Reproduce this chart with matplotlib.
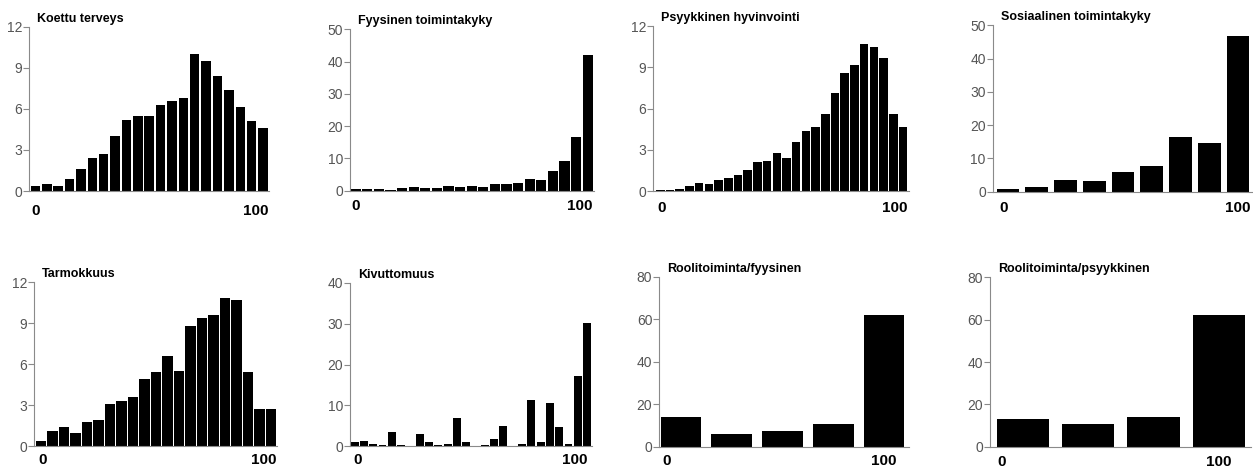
import numpy as np
import matplotlib.pyplot as plt

plt.rcParams['font.family'] = ['Liberation Sans', 'DejaVu Sans']

# Jakaumat (% vastaajista) pisteluokittain, luettu kuvasta
koettu_terveys = [0.4, 0.5, 0.4, 0.9, 1.6, 2.4, 2.7, 4.0, 5.2, 5.5, 5.5, 6.3, 6.6, 6.8,
                  10.0, 9.5, 8.4, 7.4, 6.1, 5.1, 4.6]
fyysinen = [0.5, 0.5, 0.5, 0.3, 0.7, 1.0, 0.7, 0.7, 1.5, 1.2, 1.5, 1.3, 2.0, 2.0,
            2.4, 3.5, 3.3, 6.2, 9.1, 16.5, 42.0]
psyykkinen = [0.1, 0.1, 0.2, 0.4, 0.6, 0.5, 0.85, 0.95, 1.15, 1.55, 2.1, 2.2, 2.8,
              2.4, 3.6, 4.4, 4.7, 5.6, 7.1, 8.6, 9.2, 10.7, 10.5, 9.7, 5.6, 4.7]
sosiaalinen = [0.7, 1.5, 3.5, 3.3, 5.9, 7.8, 16.5, 14.7, 46.9]
tarmokkuus = [0.4, 1.1, 1.4, 1.0, 1.8, 1.9, 3.1, 3.3, 3.6, 4.9, 5.4, 6.6, 5.5, 8.8,
              9.4, 9.6, 10.8, 10.7, 5.4, 2.7, 2.7]
kivuttomuus = [1.1, 1.3, 0.55, 0.4, 3.4, 0.2, 0, 2.9, 1.1, 0.2, 0.45, 7.0, 1.0, 0,
               0.25, 1.9, 5.0, 0.15, 0.65, 11.4, 1.05, 10.5, 4.6, 0.65, 17.1, 30.1]
rooli_fyys = [13.8, 6.0, 7.2, 10.5, 62.1]
rooli_psyyk = [13.2, 10.6, 13.9, 62.4]

otsikot = ['Koettu terveys', 'Fyysinen toimintakyky', 'Psyykkinen hyvinvointi',
           'Sosiaalinen toimintakyky', 'Tarmokkuus', 'Kivuttomuus',
           'Roolitoiminta/fyysinen', 'Roolitoiminta/psyykkinen']
sarjat = [koettu_terveys, fyysinen, psyykkinen, sosiaalinen,
          tarmokkuus, kivuttomuus, rooli_fyys, rooli_psyyk]
y_tikit = [[0, 3, 6, 9, 12], [0, 10, 20, 30, 40, 50], [0, 3, 6, 9, 12],
           [0, 10, 20, 30, 40, 50], [0, 3, 6, 9, 12], [0, 10, 20, 30, 40],
           [0, 20, 40, 60, 80], [0, 20, 40, 60, 80]]
x_tekstit = ['0', '100']

# asettelu pikseleinä: akselin kehys (vasen, yla, oikea, ala), palkkien alue, leveys
kehys = [(29.3, 26.7, 269, 191), (350, 29.3, 594, 190.7), (653.3, 26, 909, 191.3),
         (992.7, 25.3, 1251.5, 191.7), (34.3, 282, 277.5, 446.3), (350, 282.7, 591.5, 446.3),
         (659.3, 276.7, 909, 446.7), (990, 277.3, 1251, 446.7)]
palkit_px = [(30.7, 267.7), (350.7, 592.7), (656, 907.3), (996.7, 1249.3),
             (36, 276), (350.7, 591), (660.7, 904.3), (996.7, 1245)]
leveys = [0.83, 0.88, 0.88, 0.79, 0.88, 0.85, 0.8, 0.8]
x_paikat = [[0, 19.4], [0, 19.34], [0.1, 24.1], [-0.14, 8.0],
            [0.1, 19.35], [0.3, 23.7], [-0.28, 4.0], [-0.32, 3.0]]
x_pad = [9, 6, 7, 7, 5, 5, 5, 6]

W, H = 1253, 473
fig = plt.figure(figsize=(W / 100, H / 100), dpi=100)
harmaa = '#8a8a8a'

for i in range(8):
    L, T, R, B = kehys[i]
    a, b = palkit_px[i]
    w = leveys[i]
    arvot = sarjat[i]
    n = len(arvot)
    ax = fig.add_axes([L / W, 1 - B / H, (R - L) / W, (B - T) / H])
    s = (b - a) / (n - 1 + w)  # pikseliä per palkki
    ax.bar(np.arange(n), arvot, width=w, color='black', linewidth=0)
    ax.set_xlim(-w / 2 - (a - L) / s, n - 1 + w / 2 + (R - b) / s)
    ax.set_ylim(0, y_tikit[i][-1])
    ax.set_yticks(y_tikit[i])
    ax.set_xticks(x_paikat[i])
    ax.set_xticklabels(x_tekstit, fontweight='bold', fontsize=11)

    for puoli in ['top', 'right']:
        ax.spines[puoli].set_visible(False)
    for puoli in ['left', 'bottom']:
        ax.spines[puoli].set_color(harmaa)
        ax.spines[puoli].set_linewidth(0.8)

    ax.tick_params(axis='y', direction='out', length=4, width=0.8, color=harmaa,
                   labelcolor='#555555', labelsize=10, pad=1)
    ax.tick_params(axis='x', length=0, pad=x_pad[i])

    ax.annotate(otsikot[i], xy=(0, 1), xycoords='axes fraction', xytext=(8, 5),
                textcoords='offset pixels', fontsize=9, fontweight='bold',
                ha='left', va='baseline')

fig.savefig('out.png', dpi=100)
